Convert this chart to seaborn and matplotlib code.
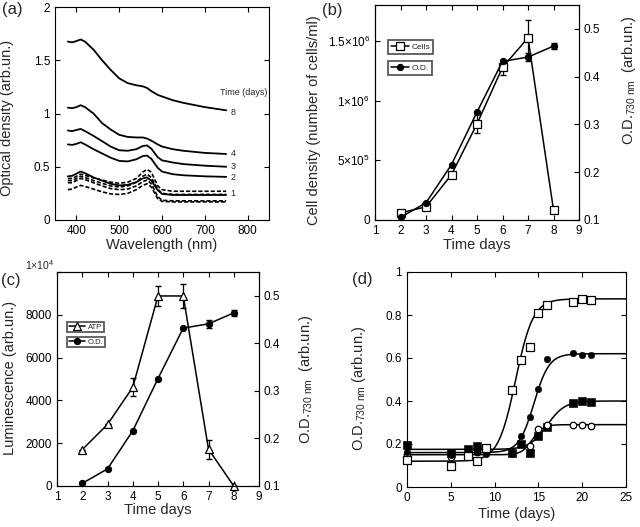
import numpy as np
import matplotlib
matplotlib.use('Agg')
import matplotlib.pyplot as plt
import seaborn as sns
from matplotlib.ticker import FuncFormatter

# Estilo general
sns.set_theme(style="ticks")
plt.rcParams['font.family'] = ['Liberation Sans', 'DejaVu Sans']
plt.rcParams.update({
    'mathtext.fontset': 'custom',
    'mathtext.rm': 'Liberation Sans',
    'mathtext.it': 'Liberation Sans:italic',
    'xtick.direction': 'in', 'ytick.direction': 'in',
    'xtick.top': True, 'ytick.right': True,
    'xtick.major.size': 3.5, 'ytick.major.size': 3.5,
    'xtick.major.width': 0.8, 'ytick.major.width': 0.8,
    'axes.linewidth': 0.8, 'axes.edgecolor': 'black',
    'xtick.labelsize': 8.5, 'ytick.labelsize': 8.5,
    'axes.labelsize': 10.5, 'xtick.color': 'black', 'ytick.color': 'black',
})

# ---------- datos (a): espectros de absorción ----------
wavelength = [380, 390, 400, 410, 420, 440, 460, 480, 500, 520,
              540, 555, 565, 575, 590, 600, 625, 650, 700, 750]
od_day8 = [1.675, 1.668, 1.68, 1.695, 1.675, 1.60, 1.50, 1.41, 1.33, 1.285,
           1.265, 1.255, 1.24, 1.21, 1.175, 1.16, 1.125, 1.10, 1.06, 1.03]
od_day4 = [1.055, 1.05, 1.06, 1.078, 1.06, 1.0, 0.91, 0.85, 0.80, 0.78,
           0.775, 0.775, 0.765, 0.745, 0.71, 0.69, 0.665, 0.65, 0.63, 0.62]
od_day3 = [0.84, 0.835, 0.845, 0.855, 0.835, 0.79, 0.74, 0.69, 0.655, 0.65,
           0.665, 0.695, 0.70, 0.67, 0.59, 0.56, 0.54, 0.525, 0.51, 0.50]
od_day2 = [0.71, 0.705, 0.715, 0.73, 0.71, 0.665, 0.625, 0.585, 0.555, 0.55,
           0.57, 0.60, 0.605, 0.575, 0.49, 0.455, 0.43, 0.42, 0.41, 0.405]
od_day1 = [0.41, 0.415, 0.435, 0.455, 0.44, 0.40, 0.37, 0.34, 0.325, 0.33,
           0.355, 0.39, 0.40, 0.37, 0.28, 0.245, 0.235, 0.235, 0.235, 0.235]
od_dash_a = [0.39, 0.39, 0.41, 0.43, 0.42, 0.395, 0.375, 0.355, 0.345, 0.355,
             0.39, 0.45, 0.475, 0.45, 0.32, 0.285, 0.27, 0.27, 0.27, 0.27]
od_dash_b = [0.37, 0.37, 0.39, 0.41, 0.40, 0.37, 0.345, 0.32, 0.31, 0.32,
             0.355, 0.41, 0.43, 0.40, 0.29, 0.25, 0.24, 0.24, 0.24, 0.24]
od_dash_c = [0.35, 0.35, 0.37, 0.39, 0.38, 0.35, 0.32, 0.295, 0.285, 0.29,
             0.32, 0.36, 0.375, 0.34, 0.22, 0.185, 0.18, 0.18, 0.18, 0.18]
od_dash_d = [0.285, 0.29, 0.31, 0.325, 0.315, 0.29, 0.265, 0.245, 0.24, 0.25,
             0.285, 0.325, 0.34, 0.31, 0.20, 0.175, 0.17, 0.17, 0.17, 0.17]
curve_labels = ['8', '4', '3', '2', '1']
curve_label_y = [1.01, 0.628, 0.506, 0.403, 0.253]

# ---------- datos (b) y (c) ----------
days = [2, 3, 4, 5, 6, 7, 8]
cells = [6.0e4, 1.1e5, 3.8e5, 8.05e5, 1.278e6, 1.525e6, 8.5e4]
cells_err = [0, 0, 2.0e4, 8.0e4, 6.0e4, 1.5e5, 0]
od730 = [0.1055, 0.136, 0.216, 0.326, 0.432, 0.441, 0.464]
od730_err = [0, 0, 0, 0, 0, 0.009, 0.007]
atp = [1700, 2880, 4610, 8880, 8880, 1720, 0]
atp_err = [0, 0, 420, 470, 550, 450, 0]

# ---------- datos (d): curvas de crecimiento ----------
t_osq = [0, 5, 7, 8, 9, 12, 13, 14, 15, 16, 19, 20, 21]
v_osq = [0.125, 0.10, 0.145, 0.12, 0.18, 0.45, 0.59, 0.65, 0.81, 0.845, 0.86, 0.875, 0.87]
t_fci = [0, 5, 8, 9, 12, 13, 14, 15, 16, 19, 20, 21]
v_fci = [0.165, 0.15, 0.165, 0.155, 0.16, 0.235, 0.325, 0.455, 0.595, 0.625, 0.615, 0.615]
t_fsq = [0, 5, 7, 8, 12, 13, 14, 15, 16, 19, 20, 21]
v_fsq = [0.195, 0.16, 0.175, 0.19, 0.16, 0.20, 0.16, 0.235, 0.28, 0.39, 0.40, 0.395]
t_oci = [0, 5, 8, 12, 14, 15, 16, 19, 20, 21]
v_oci = [0.155, 0.14, 0.165, 0.16, 0.19, 0.27, 0.29, 0.29, 0.29, 0.285]
# parámetros del ajuste sigmoidal (base, meseta, x0, dx)
fit_osq = [0.12, 0.875, 12.4, 1.0]
fit_fci = [0.16, 0.62, 14.5, 0.86]
fit_fsq = [0.175, 0.40, 16.0, 1.0]
fit_oci = [0.15, 0.29, 14.3, 0.6]


def fmt_g(v, p):
    return f'{v:g}'


def boltzmann(t, p):
    a1, a2, x0, dx = p
    return a2 + (a1 - a2) / (1 + np.exp((t - x0) / dx))


W, H = 640, 527
fig = plt.figure(figsize=(6.4, 5.27), dpi=100)


def px_axes(left, right, top, bottom):
    return fig.add_axes([left / W, 1 - bottom / H, (right - left) / W, (bottom - top) / H])


# ================= (a) =================
ax_a = px_axes(55, 269, 7, 220)
spectra = [od_day8, od_day4, od_day3, od_day2, od_day1]
for s in spectra:
    sns.lineplot(x=wavelength, y=s, ax=ax_a, color='black', linewidth=1.3)
for s in [od_dash_a, od_dash_b, od_dash_c, od_dash_d]:
    sns.lineplot(x=wavelength, y=s, ax=ax_a, color='black', linewidth=1.2,
                 linestyle=(0, (2.5, 1.2)))
for lab, yy in zip(curve_labels, curve_label_y):
    ax_a.text(760, yy, lab, fontsize=6.5, ha='left', va='center')
ax_a.text(790, 1.2, 'Time (days)', fontsize=6.5, ha='center', va='center')
ax_a.set_xlim(350, 850)
ax_a.set_ylim(0, 2)
ax_a.set_xticks([400, 500, 600, 700, 800])
ax_a.set_yticks([0, 0.5, 1, 1.5, 2])
ax_a.yaxis.set_major_formatter(FuncFormatter(fmt_g))
ax_a.set_xlabel('Wavelength (nm)')
ax_a.set_ylabel('Optical density (arb.un.)')
ax_a.xaxis.set_label_coords(0.5, -0.085)
ax_a.yaxis.set_label_coords(-0.19, 0.48)

# ================= (b) =================
ax_b = px_axes(375, 579, 5, 220)
tw_b = ax_b.twinx()
sns.lineplot(x=days, y=cells, ax=ax_b, color='black', linewidth=1.1, marker='s',
             markersize=5.5, markerfacecolor='white', markeredgecolor='black',
             markeredgewidth=0.9, zorder=3, clip_on=False)
h_cells = ax_b.lines[-1]
ax_b.errorbar(days, cells, yerr=cells_err, fmt='none', ecolor='black',
              elinewidth=0.9, capsize=2, zorder=2)
sns.lineplot(x=days, y=od730, ax=tw_b, color='black', linewidth=1.1, marker='o',
             markersize=4.5, markerfacecolor='black', markeredgecolor='black',
             zorder=3, clip_on=False)
h_od_b = tw_b.lines[-1]
tw_b.errorbar(days, od730, yerr=od730_err, fmt='none', ecolor='black',
              elinewidth=0.9, capsize=2)
ax_b.set_xlim(1, 9)
ax_b.set_xticks(range(1, 10))
ax_b.set_ylim(0, 1.8e6)
ax_b.set_yticks([0, 5e5, 1e6, 1.5e6])
ax_b.set_yticklabels(['0', '5×10$^5$', '1×10$^6$', '1.5×10$^6$'])
tw_b.set_ylim(0.1, 0.55)
tw_b.set_yticks([0.1, 0.2, 0.3, 0.4, 0.5])
tw_b.yaxis.set_major_formatter(FuncFormatter(fmt_g))
ax_b.tick_params(right=False)
tw_b.tick_params(left=False, direction='in')
ax_b.set_xlabel('Time days')
ax_b.set_ylabel('Cell density (number of cells/ml)')
tw_b.set_ylabel(r'O.D.$_{\mathrm{730\ nm}}$  (arb.un.)')
ax_b.xaxis.set_label_coords(0.5, -0.085)
ax_b.yaxis.set_label_coords(-0.265, 0.465)
tw_b.yaxis.set_label_coords(1.2, 0.65)

leg_kw = dict(loc='upper left', fancybox=False, framealpha=1, edgecolor='0.35',
              handlelength=2.2, handletextpad=0.3, borderaxespad=0)
leg1 = tw_b.legend([h_cells], ['Cells'], bbox_to_anchor=(0.064, 0.837),
                   fontsize=6, borderpad=0.35, **leg_kw)
leg1.get_frame().set_linewidth(1.3)
tw_b.add_artist(leg1)
leg2 = tw_b.legend([h_od_b], ['O.D.'], bbox_to_anchor=(0.064, 0.74),
                   fontsize=6, borderpad=0.35, **leg_kw)
leg2.get_frame().set_linewidth(1.3)

# ================= (c) =================
ax_c = px_axes(57, 259, 272, 486)
tw_c = ax_c.twinx()
sns.lineplot(x=days, y=atp, ax=ax_c, color='black', linewidth=1.1, marker='^',
             markersize=5.5, markerfacecolor='white', markeredgecolor='black',
             markeredgewidth=0.9, zorder=3, clip_on=False)
h_atp = ax_c.lines[-1]
ax_c.errorbar(days, atp, yerr=atp_err, fmt='none', ecolor='black',
              elinewidth=0.9, capsize=2, zorder=2)
sns.lineplot(x=days, y=od730, ax=tw_c, color='black', linewidth=1.1, marker='o',
             markersize=4.5, markerfacecolor='black', markeredgecolor='black',
             zorder=3, clip_on=False)
h_od_c = tw_c.lines[-1]
tw_c.errorbar(days, od730, yerr=od730_err, fmt='none', ecolor='black',
              elinewidth=0.9, capsize=2)
ax_c.set_xlim(1, 9)
ax_c.set_xticks(range(1, 10))
ax_c.set_ylim(0, 10000)
ax_c.set_yticks([0, 2000, 4000, 6000, 8000, 10000])
ax_c.set_yticklabels(['0', '2000', '4000', '6000', '8000', ''])
ax_c.text(-0.015, 1.0, '1×10$^4$', transform=ax_c.transAxes, fontsize=7.5,
          ha='right', va='bottom')
tw_c.set_ylim(0.1, 0.55)
tw_c.set_yticks([0.1, 0.2, 0.3, 0.4, 0.5])
tw_c.yaxis.set_major_formatter(FuncFormatter(fmt_g))
ax_c.tick_params(right=False)
tw_c.tick_params(left=False, direction='in')
ax_c.set_xlabel('Time days')
ax_c.set_ylabel('Luminescence (arb.un.)')
tw_c.set_ylabel(r'O.D.$_{\mathrm{730\ nm}}$  (arb.un.)')
ax_c.xaxis.set_label_coords(0.5, -0.08)
ax_c.yaxis.set_label_coords(-0.2, 0.505)
tw_c.yaxis.set_label_coords(1.19, 0.5)

leg3 = tw_c.legend([h_atp], ['ATP'], bbox_to_anchor=(0.05, 0.766),
                   fontsize=5.5, borderpad=0.2, **leg_kw)
leg3.get_frame().set_linewidth(1.3)
tw_c.add_artist(leg3)
leg4 = tw_c.legend([h_od_c], ['O.D.'], bbox_to_anchor=(0.05, 0.696),
                   fontsize=5.5, borderpad=0.2, **leg_kw)
leg4.get_frame().set_linewidth(1.3)

# ================= (d) =================
ax_d = px_axes(407, 626, 272, 487)
t_fit = np.linspace(0, 25, 251)
for p in [fit_osq, fit_fci, fit_fsq, fit_oci]:
    sns.lineplot(x=t_fit, y=boltzmann(t_fit, p), ax=ax_d, color='black', linewidth=1.1)
sns.scatterplot(x=t_fsq, y=v_fsq, ax=ax_d, marker='s', s=30, color='black',
                edgecolor='black', zorder=3, clip_on=False)
sns.scatterplot(x=t_oci, y=v_oci, ax=ax_d, marker='o', s=22, color='white',
                edgecolor='black', linewidth=0.9, zorder=3, clip_on=False)
sns.scatterplot(x=t_fci, y=v_fci, ax=ax_d, marker='o', s=22, color='black',
                edgecolor='black', zorder=3, clip_on=False)
sns.scatterplot(x=t_osq, y=v_osq, ax=ax_d, marker='s', s=32, color='white',
                edgecolor='black', linewidth=0.9, zorder=4, clip_on=False)
ax_d.set_xlim(0, 25)
ax_d.set_ylim(0, 1)
ax_d.set_xticks([0, 5, 10, 15, 20, 25])
ax_d.set_yticks([0, 0.2, 0.4, 0.6, 0.8, 1])
ax_d.yaxis.set_major_formatter(FuncFormatter(fmt_g))
ax_d.set_xlabel('Time (days)')
ax_d.set_ylabel(r'O.D.$_{\mathrm{730\ nm}}$ (arb.un.)')
ax_d.xaxis.set_label_coords(0.5, -0.095)
ax_d.yaxis.set_label_coords(-0.18, 0.46)

# etiquetas de panel
fig.text(2 / W, 1 - 2 / H, '(a)', fontsize=12, ha='left', va='top')
fig.text(322 / W, 1 - 3 / H, '(b)', fontsize=12, ha='left', va='top')
fig.text(1 / W, 1 - 273 / H, '(c)', fontsize=12, ha='left', va='top')
fig.text(352 / W, 1 - 272 / H, '(d)', fontsize=12, ha='left', va='top')

fig.savefig('out.png', dpi=100)
